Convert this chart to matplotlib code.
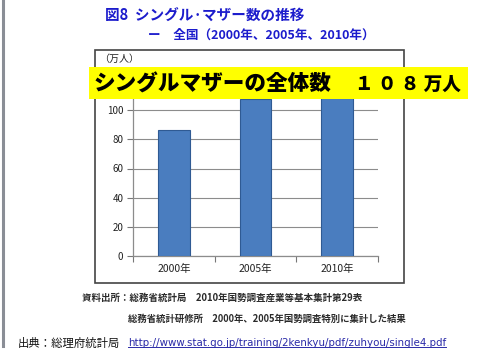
import matplotlib
matplotlib.use("Agg")
import matplotlib.pyplot as plt
from matplotlib.patches import Rectangle
from matplotlib.lines import Line2D

plt.rcParams['font.family'] = ['Noto Sans CJK JP', 'DejaVu Sans']

categories = ["2000年", "2005年", "2010年"]
values = [86.7, 107.9, 108.2]
yticks = [0, 20, 40, 60, 80, 100]
ymax = 120

W, H = 480, 357
fig = plt.figure(figsize=(4.8, 3.57), dpi=100)
fig.patch.set_facecolor('white')
renderer = fig.canvas.get_renderer()

def fx(px):
    return px / W

def fy(py):
    return 1 - py / H

def fit(t, width_px):
    """Scale a text's font size so its rendered width matches width_px."""
    for _ in range(3):
        w = t.get_window_extent(renderer=renderer).width
        if w > 0:
            t.set_fontsize(t.get_fontsize() * width_px / w)
    return t

# slide left border
fig.add_artist(Line2D([fx(2.5), fx(2.5)], [fy(0), fy(346)], color='#8a8e96', lw=2.2))

# chart box
fig.add_artist(Rectangle((fx(95), fy(283)), fx(404) - fx(95), fy(50) - fy(283),
                         fill=False, edgecolor='#444444', lw=1.2))

ax = fig.add_axes([fx(133), fy(256), fx(378) - fx(133), fy(81) - fy(256)])
x = list(range(len(categories)))
ax.bar(x, values, width=0.39, color='#4a7dbf', edgecolor='#2f5a93', lw=0.8, zorder=3)
ax.set_xlim(-0.5, len(categories) - 0.5)
ax.set_ylim(0, ymax)
ax.set_yticks(yticks)
ax.set_yticklabels([str(v) for v in yticks], fontsize=7, color='#222222')
ax.yaxis.grid(True, color='#8c8c8c', lw=0.8, zorder=0)
ax.set_axisbelow(True)
ax.set_xticks([i - 0.5 for i in range(len(categories) + 1)])
ax.set_xticklabels([])
ax.set_xticks(x, minor=True)
ax.set_xticklabels(categories, minor=True, fontsize=7.5, color='#222222')
ax.tick_params(axis='x', which='minor', length=0, pad=6)
ax.tick_params(axis='x', which='major', length=4, color='#777777', direction='out')
ax.tick_params(axis='y', length=4, color='#777777', direction='out', pad=3)
for s in ['top', 'right']:
    ax.spines[s].set_visible(False)
for s in ['left', 'bottom']:
    ax.spines[s].set_color('#8c8c8c')
    ax.spines[s].set_linewidth(0.9)

# unit label
fig.text(fx(99), fy(59), "（万人）", fontsize=7.2, color='#222222', va='center', ha='left')

# yellow banner
fig.add_artist(Rectangle((fx(89), fy(98.5)), fx(468) - fx(89), fy(67) - fy(98.5),
                         facecolor='#ffff00', edgecolor='none', zorder=10))
t = fig.text(fx(94), fy(84), "シングルマザーの全体数", fontsize=15, fontweight='heavy',
             color='black', va='center', ha='left', zorder=11)
fit(t, 237)
t = fig.text(fx(461), fy(84), "１ ０ ８ 万人", fontsize=15, fontweight='heavy',
             color='black', va='center', ha='right', zorder=11)
fit(t, 106)

# titles
title_color = '#1c1ccc'
t = fig.text(fx(105), fy(16), "図8  シングル·マザー数の推移", fontsize=10.7, fontweight='bold',
             color=title_color, va='center', ha='left')
fit(t, 200)
t = fig.text(fx(148), fy(35), "ー　全国（2000年、2005年、2010年）", fontsize=9.1, fontweight='bold',
             color=title_color, va='center', ha='left')
fit(t, 227)

# footnotes
t = fig.text(fx(82), fy(298), "資料出所：総務省統計局　2010年国勢調査産業等基本集計第29表",
             fontsize=6.8, fontweight='bold', color='#2a2a2a', va='center', ha='left')
fit(t, 278)
t = fig.text(fx(128), fy(319), "総務省統計研修所　2000年、2005年国勢調査特別に集計した結果",
             fontsize=6.75, fontweight='bold', color='#2a2a2a', va='center', ha='left')
fit(t, 277)
t = fig.text(fx(18), fy(343), "出典：総理府統計局", fontsize=8.2, color='#111111',
             va='center', ha='left')
fit(t, 102)
url = fig.text(fx(128), fy(343), "http://www.stat.go.jp/training/2kenkyu/pdf/zuhyou/single4.pdf",
               fontsize=7.37, color='#2a2aa8', va='center', ha='left', family=['DejaVu Sans'])
fit(url, 319)
bb = url.get_window_extent(renderer=renderer)
inv = fig.transFigure.inverted()
(x0, y0), (x1, y1) = inv.transform([(bb.x0, bb.y0), (bb.x1, bb.y0)])
fig.add_artist(Line2D([x0, x1], [y0 + 0.002, y0 + 0.002], color='#2a2aa8', lw=0.7))

fig.savefig("out.png", dpi=100, facecolor='white')
